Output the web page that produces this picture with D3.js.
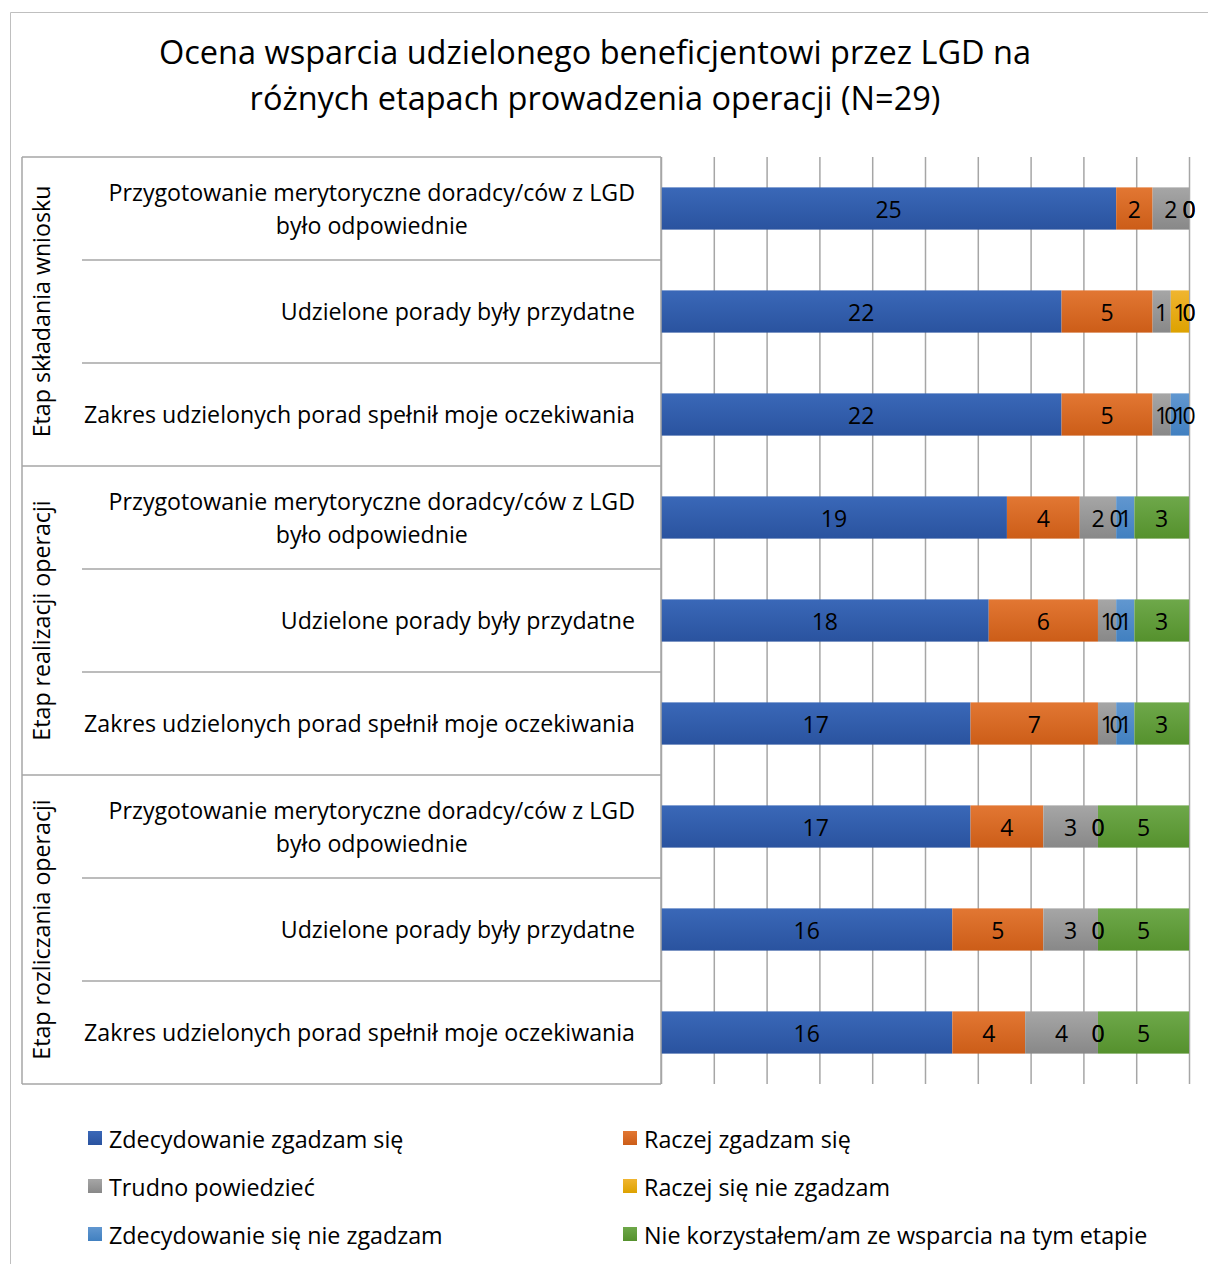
<!DOCTYPE html>
<html><head><meta charset="utf-8">
<script src="https://cdn.jsdelivr.net/npm/d3@7"></script>
<style>body{margin:0;background:#fff}svg{display:block}</style>
</head><body>
<script>
const titleLines = ["Ocena wsparcia udzielonego beneficjentowi przez LGD na", "różnych etapach prowadzenia operacji (N=29)"];
const groups = ["Etap składania wniosku", "Etap realizacji operacji", "Etap rozliczania operacji"];
const categories = [
  ["Przygotowanie merytoryczne doradcy/ców z LGD", "było odpowiednie"],
  ["Udzielone porady były przydatne"],
  ["Zakres udzielonych porad spełnił moje oczekiwania"],
  ["Przygotowanie merytoryczne doradcy/ców z LGD", "było odpowiednie"],
  ["Udzielone porady były przydatne"],
  ["Zakres udzielonych porad spełnił moje oczekiwania"],
  ["Przygotowanie merytoryczne doradcy/ców z LGD", "było odpowiednie"],
  ["Udzielone porady były przydatne"],
  ["Zakres udzielonych porad spełnił moje oczekiwania"]
];
const seriesNames = ["Zdecydowanie zgadzam się", "Raczej zgadzam się", "Trudno powiedzieć", "Raczej się nie zgadzam", "Zdecydowanie się nie zgadzam", "Nie korzystałem/am ze wsparcia na tym etapie"];
const sZdecydowanieTak = [25, 22, 22, 19, 18, 17, 17, 16, 16];
const sRaczejTak       = [2, 5, 5, 4, 6, 7, 4, 5, 4];
const sTrudno          = [2, 1, 1, 2, 1, 1, 3, 3, 4];
const sRaczejNie       = [0, 1, 0, 0, 0, 0, 0, 0, 0];
const sZdecydowanieNie = [0, 0, 1, 1, 1, 1, 0, 0, 0];
const sNieKorzystal    = [0, 0, 0, 3, 3, 3, 5, 5, 5];
const seriesValues = [sZdecydowanieTak, sRaczejTak, sTrudno, sRaczejNie, sZdecydowanieNie, sNieKorzystal];
const gridTicks = [0, 0.1, 0.2, 0.3, 0.4, 0.5, 0.6, 0.7, 0.8, 0.9, 1];

const colors = [["#3a68b8", "#2a539f"], ["#e27733", "#cc5d18"], ["#a6a6a6", "#888888"], ["#f0b530", "#dda200"], ["#6197d0", "#4180c0"], ["#6ea84a", "#55912d"]];
const font = "'Open Sans', sans-serif";

const W = 1208, H = 1264;
const svg = d3.select("body").append("svg").attr("width", W).attr("height", H).style("font-family", font);
const defs = svg.append("defs");
colors.forEach((c, i) => {
  const g = defs.append("linearGradient").attr("id", "g" + i).attr("x1", 0).attr("y1", 0).attr("x2", 0).attr("y2", 1);
  g.append("stop").attr("offset", "0%").attr("stop-color", c[0]);
  g.append("stop").attr("offset", "100%").attr("stop-color", c[1]);
});

// outer frame
svg.append("path").attr("d", `M10.5,${H} V12.5 H${W}`).attr("fill", "none").attr("stroke", "#bfbfbf").attr("stroke-width", 1);

// title
svg.append("g").selectAll("text").data(titleLines).join("text")
  .attr("x", 595).attr("y", (d, i) => 64 + i * 46).attr("text-anchor", "middle")
  .attr("font-size", 32.5).attr("fill", "#000").text(d => d);

const x0 = 661, x1 = 1189, yTop = 157, yBot = 1084;
const x = d3.scaleLinear().domain([0, 1]).range([x0, x1]);
const idx = d3.range(categories.length);
const y = d3.scaleBand().domain(idx).range([yTop, yBot]).paddingInner(0.59).paddingOuter(0.295);
const step = y.step();

// gridlines
svg.append("g").attr("transform", `translate(0,${yBot})`)
  .call(d3.axisBottom(x).tickValues(gridTicks).tickSize(-(yBot - yTop)).tickFormat(""))
  .call(g => g.select(".domain").remove())
  .call(g => g.selectAll(".tick line").attr("stroke", "#a6a6a6").attr("stroke-width", 1.5));

// stacked data
const rows = idx.map(i => {
  const total = d3.sum(seriesValues, s => s[i]);
  let acc = 0;
  return seriesValues.map((s, k) => { const seg = { row: i, k, v: s[i], a: acc / total, b: (acc + s[i]) / total }; acc += s[i]; return seg; });
});
const segs = rows.flat();

svg.append("g").selectAll("rect").data(segs).join("rect")
  .attr("x", d => x(d.a)).attr("width", d => x(d.b) - x(d.a))
  .attr("y", d => y(d.row)).attr("height", y.bandwidth())
  .attr("fill", d => `url(#g${d.k})`);

svg.append("g").selectAll("text").data(segs).join("text")
  .attr("x", d => (x(d.a) + x(d.b)) / 2).attr("y", d => y(d.row) + y.bandwidth() / 2 + 9)
  .attr("text-anchor", "middle").attr("font-size", 23).attr("fill", "#000").text(d => d.v);

// category axis box lines
const axisG = svg.append("g").attr("stroke", "#a6a6a6").attr("stroke-width", 1.5);
axisG.append("line").attr("x1", x0).attr("x2", x0).attr("y1", yTop).attr("y2", yBot);
axisG.append("line").attr("x1", 22).attr("x2", 22).attr("y1", yTop).attr("y2", yBot);
d3.range(categories.length + 1).forEach(i => {
  const yy = yTop + i * step;
  const isGroup = i % 3 === 0;
  axisG.append("line").attr("x1", isGroup ? 22 : 82).attr("x2", x0).attr("y1", yy).attr("y2", yy);
});

// category labels
const labG = svg.append("g");
categories.forEach((lines, i) => {
  const cy = yTop + (i + 0.5) * step;
  const lh = 33;
  const ts = lines.map((l, j) => labG.append("text").attr("font-size", 23.2).attr("fill", "#000")
    .attr("y", cy + 8.5 + (j - (lines.length - 1) / 2) * lh).text(l));
  const maxW = d3.max(ts, t => t.node().getComputedTextLength());
  ts.forEach(t => t.attr("x", 635 - maxW / 2).attr("text-anchor", "middle"));
});

// group labels
groups.forEach((g, i) => {
  const cy = yTop + (i * 3 + 1.5) * step;
  svg.append("text").attr("transform", `translate(50,${cy}) rotate(-90)`)
    .attr("text-anchor", "middle").attr("font-size", 23.2).attr("fill", "#000").text(g);
});

// legend
const leg = svg.append("g");
seriesNames.forEach((n, i) => {
  const lx = i % 2 === 0 ? 88 : 623;
  const ly = 1139 + Math.floor(i / 2) * 48;
  leg.append("rect").attr("x", lx).attr("y", ly - 8).attr("width", 14).attr("height", 14).attr("fill", `url(#g${i})`);
  leg.append("text").attr("x", lx + 21).attr("y", ly + 8.5).attr("font-size", 23.3).attr("fill", "#000").text(n);
});
</script>
</body></html>
